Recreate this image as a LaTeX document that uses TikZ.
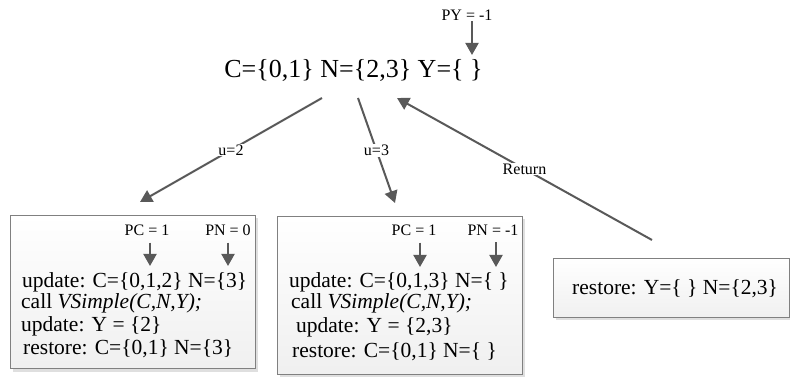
\documentclass[tikz,border=0pt]{standalone}
\usepackage{fontspec}
\setmainfont{Liberation Serif}
\usetikzlibrary{arrows.meta,shadows}
\definecolor{arrgray}{RGB}{89,89,89}
\definecolor{boxline}{RGB}{128,128,128}

\begin{document}
\begin{tikzpicture}[x=1pt, y=-1pt,
  arr/.style={-{Triangle[length=12pt,width=13pt]}, line width=2pt, draw=arrgray},
  lbl/.style={font=\fontsize{16}{18}\selectfont, inner sep=1pt},
  txt/.style={font=\fontsize{21.5}{24}\selectfont, anchor=base west, inner sep=0pt},
  box/.style={draw=boxline, line width=0.8pt, top color=white, bottom color=gray!12,
    drop shadow={shadow xshift=3pt, shadow yshift=-3pt, fill=gray!25, opacity=1}}]
\useasboundingbox (0,0) rectangle (790,379);

% top call
\node[font=\fontsize{26}{30}\selectfont, inner sep=0pt](root) at (353.5,70){C=\{0,1\} N=\{2,3\} Y=\{\ \}};
\node[lbl](py) at (467,15){PY = -1};
\coordinate (pytip) at (472,55);
\draw[arr](py.south -| pytip) -- (pytip);

% branches
\coordinate (u2s) at (322,98);
\coordinate (u2e) at (140,202);
\coordinate (u3s) at (358,98);
\coordinate (u3e) at (395,203);
\coordinate (rets) at (652,240);
\coordinate (rete) at (397,98);
\draw[arr](u2s) -- node[lbl, fill=white]{u=2} (u2e);
\draw[arr](u3s) -- node[lbl, fill=white]{u=3} (u3e);
\draw[arr](rets) -- node[lbl, fill=white]{Return} (rete);

% box for u=2
\node[box, minimum width=245pt, minimum height=153pt](box1) at (132.5,292){};
\node[lbl](pc1) at (147,230){PC = 1};
\node[lbl](pn1) at (228,230){PN = 0};
\coordinate (pc1tip) at (150,266);
\coordinate (pn1tip) at (228,266);
\draw[arr, shorten <=6pt](pc1.south -| pc1tip) -- (pc1tip);
\draw[arr, shorten <=6pt](pn1.south -| pn1tip) -- (pn1tip);
\node[txt](l11) at (22,288){update: C=\{0,1,2\} N=\{3\}};
\node[txt](l12) at (21,309){call \textit{VSimple(C,N,Y);}};
\node[txt](l13) at (21,332){update: Y = \{2\}};
\node[txt](l14) at (23,355){restore: C=\{0,1\} N=\{3\}};

% box for u=3
\node[box, minimum width=245pt, minimum height=158pt](box2) at (399.5,295){};
\node[lbl](pc2) at (414,230){PC = 1};
\node[lbl](pn2) at (493,230){PN = -1};
\coordinate (pc2tip) at (420,267);
\coordinate (pn2tip) at (496,267);
\draw[arr, shorten <=6pt](pc2.south -| pc2tip) -- (pc2tip);
\draw[arr, shorten <=6pt](pn2.south -| pn2tip) -- (pn2tip);
\node[txt](l21) at (289,288){update: C=\{0,1,3\} N=\{\ \}};
\node[txt](l22) at (291,309){call \textit{VSimple(C,N,Y);}};
\node[txt](l23) at (296,333){update: Y = \{2,3\}};
\node[txt](l24) at (292,357){restore: C=\{0,1\} N=\{\ \}};

% restore box
\node[box, minimum width=236pt, minimum height=59pt](box3) at (671,287.5){};
\node[txt](l31) at (572,295){restore: Y=\{\ \} N=\{2,3\}};
\end{tikzpicture}
\end{document}
